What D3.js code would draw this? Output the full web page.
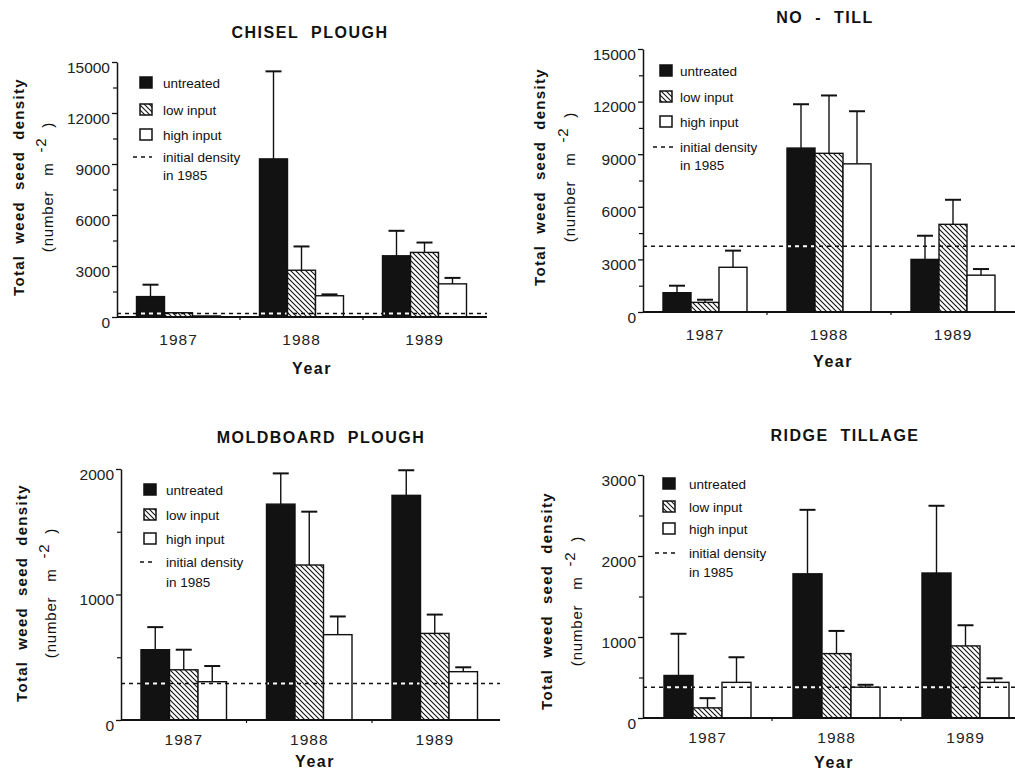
<!DOCTYPE html>
<html>
<head>
<meta charset="utf-8">
<script src="https://cdn.jsdelivr.net/npm/d3@7"></script>
<style>
  html, body { margin: 0; padding: 0; background: #fff; }
  svg { display: block; font-family: "Liberation Sans", Arial, Helvetica, sans-serif; }
  text { white-space: pre; }
</style>
</head>
<body>
<script>
// ---------- DATA ----------
const years = ["1987", "1988", "1989"];
const treatments = ["untreated", "low input", "high input"];

// CHISEL PLOUGH
const chiselUntreated    = [1200, 9300, 3600];
const chiselUntreatedTop = [1900, 14450, 5070];
const chiselLow          = [250, 2750, 3800];
const chiselLowTop       = [null, 4150, 4380];
const chiselHigh         = [60, 1250, 1950];
const chiselHighTop      = [null, 1330, 2300];
const chiselInitial = 200;
const chiselTicks = [0, 3000, 6000, 9000, 12000, 15000];
const chiselMinor = [1500, 4500, 7500, 10500, 13500];

// NO - TILL
const notillUntreated    = [1100, 9350, 3000];
const notillUntreatedTop = [1500, 11850, 4350];
const notillLow          = [550, 9050, 5000];
const notillLowTop       = [700, 12350, 6400];
const notillHigh         = [2550, 8450, 2100];
const notillHighTop      = [3500, 11450, 2450];
const notillInitial = 3750;
const notillTicks = [0, 3000, 6000, 9000, 12000, 15000];
const notillMinor = [1500, 4500, 7500, 10500, 13500];

// MOLDBOARD PLOUGH
const moldUntreated    = [560, 1720, 1790];
const moldUntreatedTop = [740, 1965, 1990];
const moldLow          = [400, 1235, 690];
const moldLowTop       = [560, 1660, 840];
const moldHigh         = [305, 680, 385];
const moldHighTop      = [430, 825, 420];
const moldInitial = 290;
const moldTicks = [0, 1000, 2000];
const moldMinor = [500, 1500];

// RIDGE TILLAGE
const ridgeUntreated    = [525, 1780, 1790];
const ridgeUntreatedTop = [1040, 2570, 2620];
const ridgeLow          = [125, 795, 890];
const ridgeLowTop       = [245, 1075, 1145];
const ridgeHigh         = [440, 380, 440];
const ridgeHighTop      = [750, 410, 490];
const ridgeInitial = 380;
const ridgeTicks = [0, 1000, 2000, 3000];
const ridgeMinor = [500, 1500, 2500];

// ---------- LAYOUT ----------
const panels = [
  { id: "p1", title: "CHISEL\u00a0\u00a0PLOUGH", titleX: 310, titleY: 38,
    means: [chiselUntreated, chiselLow, chiselHigh], tops: [chiselUntreatedTop, chiselLowTop, chiselHighTop],
    initial: chiselInitial, ticks: chiselTicks, minor: chiselMinor, max: 15000,
    ax: 117, y0: 317, yTop: 62, band: 123, barW: 28, xEnd: 487,
    yearX: 312, yearY: 374, tickY: 345,
    lab1X: 24, lab2X: 53, labY: 187,
    legX: 140, legTextX: 163, legY: [83, 110, 135, 157], legY2: 175, dashX: [133, 152] },
  { id: "p2", title: "NO\u00a0\u00a0-\u00a0\u00a0TILL", titleX: 825, titleY: 23,
    means: [notillUntreated, notillLow, notillHigh], tops: [notillUntreatedTop, notillLowTop, notillHighTop],
    initial: notillInitial, ticks: notillTicks, minor: notillMinor, max: 15000,
    ax: 643, y0: 312, yTop: 49, band: 124, barW: 28, xEnd: 1015,
    yearX: 833, yearY: 367, tickY: 340,
    lab1X: 545, lab2X: 575, labY: 177,
    legX: 660, legTextX: 680, legY: [71, 97, 122, 147], legY2: 165, dashX: [653, 673] },
  { id: "p3", title: "MOLDBOARD\u00a0\u00a0PLOUGH", titleX: 321, titleY: 443,
    means: [moldUntreated, moldLow, moldHigh], tops: [moldUntreatedTop, moldLowTop, moldHighTop],
    initial: moldInitial, ticks: moldTicks, minor: moldMinor, max: 2000,
    ax: 121, y0: 720, yTop: 469, band: 125.5, barW: 28.5, xEnd: 500,
    yearX: 315, yearY: 767, tickY: 745,
    lab1X: 27, lab2X: 56, labY: 593,
    legX: 144, legTextX: 166, legY: [490, 515, 539, 562], legY2: 582, dashX: [140, 156] },
  { id: "p4", title: "RIDGE\u00a0\u00a0TILLAGE", titleX: 845, titleY: 441,
    means: [ridgeUntreated, ridgeLow, ridgeHigh], tops: [ridgeUntreatedTop, ridgeLowTop, ridgeHighTop],
    initial: ridgeInitial, ticks: ridgeTicks, minor: ridgeMinor, max: 3000,
    ax: 643, y0: 718, yTop: 475, band: 129, barW: 29, xEnd: 1015,
    yearX: 834, yearY: 768, tickY: 743,
    lab1X: 552, lab2X: 582, labY: 601,
    legX: 663, legTextX: 689, legY: [484, 507, 529, 553], legY2: 572, dashX: [655, 679] }
];

const svg = d3.select("body").append("svg").attr("width", 1015).attr("height", 771);
const defs = svg.append("defs");
const pat = defs.append("pattern").attr("id", "hatch").attr("patternUnits", "userSpaceOnUse")
  .attr("width", 5).attr("height", 5);
pat.append("rect").attr("width", 5).attr("height", 5).attr("fill", "#fff");
pat.append("path").attr("d", "M-1,-1 L6,6 M-1,4 L1,6 M4,-1 L6,1")
  .attr("stroke", "#111").attr("stroke-width", 1.1);

const fills = ["#121212", "url(#hatch)", "#fff"];

panels.forEach(p => {
  const g = svg.append("g");
  const x = d3.scaleBand().domain(years).range([p.ax, p.ax + 3 * p.band]);
  const xs = d3.scaleBand().domain(treatments).range([0, 3 * p.barW]);
  const y = d3.scaleLinear().domain([0, p.max]).range([p.y0, p.yTop]);
  const groupX = yr => x(yr) + (x.bandwidth() - 3 * p.barW) / 2;

  // title
  g.append("text").attr("x", p.titleX).attr("y", p.titleY).attr("text-anchor", "middle")
    .attr("font-size", 16).attr("font-weight", "bold").attr("letter-spacing", 1.5).attr("fill", "#111")
    .text(p.title);

  // bars
  const cells = [];
  treatments.forEach((t, ti) => years.forEach((yr, yi) => {
    cells.push({ t, ti, yr, v: p.means[ti][yi], top: p.tops[ti][yi] });
  }));
  g.selectAll("rect.bar").data(cells).join("rect").attr("class", "bar")
    .attr("x", d => groupX(d.yr) + xs(d.t))
    .attr("y", d => y(d.v))
    .attr("width", xs.bandwidth())
    .attr("height", d => y(0) - y(d.v))
    .attr("fill", d => fills[d.ti])
    .attr("stroke", "#111").attr("stroke-width", 1.4);

  // error bars
  const eb = cells.filter(d => d.top != null);
  g.selectAll("line.wh").data(eb).join("line").attr("class", "wh")
    .attr("x1", d => groupX(d.yr) + xs(d.t) + xs.bandwidth() / 2)
    .attr("x2", d => groupX(d.yr) + xs(d.t) + xs.bandwidth() / 2)
    .attr("y1", d => y(d.v)).attr("y2", d => y(d.top))
    .attr("stroke", "#111").attr("stroke-width", 1.4);
  g.selectAll("line.cap").data(eb).join("line").attr("class", "cap")
    .attr("x1", d => groupX(d.yr) + xs(d.t) + xs.bandwidth() / 2 - 8)
    .attr("x2", d => groupX(d.yr) + xs(d.t) + xs.bandwidth() / 2 + 8)
    .attr("y1", d => y(d.top)).attr("y2", d => y(d.top))
    .attr("stroke", "#111").attr("stroke-width", 2);

  // initial density line (black), white dashes where it crosses untreated bars
  const yi = y(p.initial);
  g.append("line").attr("x1", p.ax).attr("x2", p.xEnd)
    .attr("y1", yi).attr("y2", yi)
    .attr("stroke", "#111").attr("stroke-width", 1.5).attr("stroke-dasharray", "4,4");
  g.selectAll("line.wd").data(cells.filter(d => d.ti === 0 && d.v > p.initial)).join("line")
    .attr("class", "wd")
    .attr("x1", d => groupX(d.yr) + xs(d.t) + 1)
    .attr("x2", d => groupX(d.yr) + xs(d.t) + xs.bandwidth() - 1)
    .attr("y1", yi).attr("y2", yi)
    .attr("stroke", "#fff").attr("stroke-width", 2).attr("stroke-dasharray", "4,4")
    .attr("stroke-dashoffset", d => (groupX(d.yr) + xs(d.t) + 1 - p.ax));

  // y axis
  const minorAx = g.append("g").attr("transform", `translate(${p.ax},0)`)
    .call(d3.axisLeft(y).tickValues(p.minor).tickSize(4).tickSizeOuter(0).tickFormat(""));
  minorAx.select(".domain").remove();
  minorAx.selectAll("line").attr("stroke", "#111").attr("stroke-width", 1.2);
  const majorAx = g.append("g").attr("transform", `translate(${p.ax},0)`)
    .call(d3.axisLeft(y).tickValues(p.ticks).tickSize(5).tickSizeOuter(0).tickPadding(2).tickFormat(d3.format("d")));
  majorAx.select(".domain").attr("stroke", "#111").attr("stroke-width", 1.5);
  majorAx.selectAll("line").attr("stroke", "#111").attr("stroke-width", 1.3);
  majorAx.selectAll("text").attr("font-size", 15.5).attr("fill", "#222")
    .attr("font-family", "'Liberation Sans', Arial, sans-serif").attr("dy", "0.65em");

  // x axis
  g.append("line").attr("x1", p.ax).attr("x2", p.xEnd).attr("y1", p.y0).attr("y2", p.y0)
    .attr("stroke", "#111").attr("stroke-width", 2);
  const xa = g.append("g").attr("transform", `translate(0,${p.y0})`)
    .call(d3.axisBottom(x).tickSize(0).tickSizeOuter(0));
  xa.select(".domain").remove();
  xa.selectAll("text").attr("y", p.tickY - p.y0).attr("dy", 0).attr("font-size", 15.5)
    .attr("letter-spacing", 1).attr("fill", "#222")
    .attr("font-family", "'Liberation Sans', Arial, sans-serif");
  // small tick marks at band boundaries
  g.selectAll("line.xt").data(years.slice(1)).join("line").attr("class", "xt")
    .attr("x1", d => x(d)).attr("x2", d => x(d)).attr("y1", p.y0).attr("y2", p.y0 + 3)
    .attr("stroke", "#111").attr("stroke-width", 1.2);

  // axis titles
  g.append("text").attr("x", p.yearX).attr("y", p.yearY).attr("text-anchor", "middle")
    .attr("font-size", 16).attr("font-weight", "bold").attr("letter-spacing", 1.5).attr("fill", "#111")
    .text("Year");
  g.append("text").attr("transform", `translate(${p.lab1X},${p.labY}) rotate(-90)`)
    .attr("text-anchor", "middle").attr("font-size", 15).attr("font-weight", "bold")
    .attr("letter-spacing", 1.3).attr("fill", "#111")
    .text("Total\u00a0\u00a0weed\u00a0\u00a0seed\u00a0\u00a0density");
  const l2 = g.append("text").attr("transform", `translate(${p.lab2X},${p.labY}) rotate(-90)`)
    .attr("text-anchor", "middle").attr("font-size", 15).attr("letter-spacing", 0.8).attr("fill", "#111");
  l2.append("tspan").text("(number\u00a0\u00a0\u00a0m\u00a0\u00a0");
  l2.append("tspan").attr("dy", -7).text("-2");
  l2.append("tspan").attr("dy", 7).text("\u00a0\u00a0)");

  // legend
  const lg = g.append("g");
  treatments.forEach((t, i) => {
    lg.append("rect").attr("x", p.legX).attr("y", p.legY[i] - 6).attr("width", 12).attr("height", 11)
      .attr("fill", fills[i]).attr("stroke", "#111").attr("stroke-width", 1.5);
    lg.append("text").attr("x", p.legTextX).attr("y", p.legY[i] + 4.5)
      .attr("font-size", 13.5).attr("fill", "#111").text(t);
  });
  lg.append("line").attr("x1", p.dashX[0]).attr("x2", p.dashX[1])
    .attr("y1", p.legY[3]).attr("y2", p.legY[3])
    .attr("stroke", "#111").attr("stroke-width", 1.5).attr("stroke-dasharray", "4,4");
  lg.append("text").attr("x", p.legTextX).attr("y", p.legY[3] + 4.5)
    .attr("font-size", 13.5).attr("fill", "#111").text("initial density");
  lg.append("text").attr("x", p.legTextX).attr("y", p.legY2 + 4.5)
    .attr("font-size", 13.5).attr("fill", "#111").text("in 1985");
});
</script>
</body>
</html>
